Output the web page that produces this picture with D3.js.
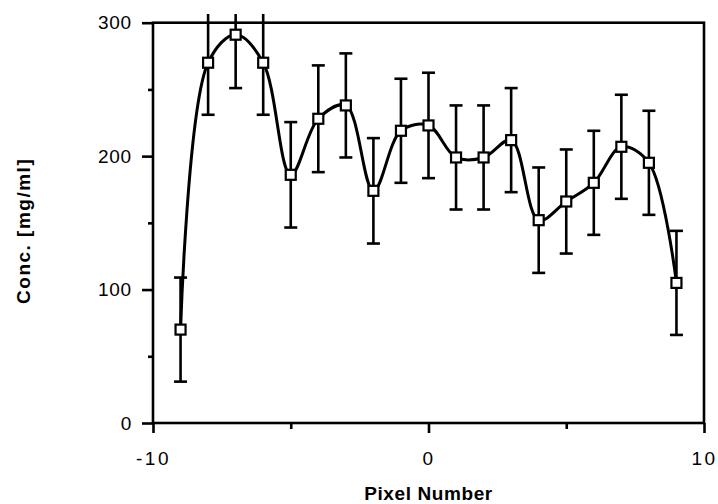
<!DOCTYPE html>
<html>
<head>
<meta charset="utf-8">
<script src="https://cdn.jsdelivr.net/npm/d3@7"></script>
<style>
  body { margin: 0; background: #fff; }
  svg { display: block; font-family: "Liberation Sans", Arial, Helvetica, sans-serif; }
</style>
</head>
<body>
<svg id="chart" width="718" height="504"></svg>
<script>
// pixel positions along the detector and measured concentration
var pixels = [-9, -8, -7, -6, -5, -4, -3, -2, -1, 0, 1, 2, 3, 4, 5, 6, 7, 8, 9];
var conc = [70, 270, 291, 270, 186, 228, 238, 174, 219, 223, 199, 199, 212, 152, 166, 180, 207, 195, 105];
var errs = [39, 39, 40, 39, 39.5, 40, 39, 39.5, 39, 39.5, 39, 39, 39, 39.5, 39, 39, 39, 39, 39];

var xMajorTicks = [-10, 0, 10];
var xMinorTicks = [-5, 5];
var yMajorTicks = [0, 100, 200, 300];
var yMinorTicks = [50, 150, 250];

var svg = d3.select('#chart');
var W = 718, H = 504;

var x = d3.scaleLinear().domain([-10, 10]).range([153, 704]);
var y = d3.scaleLinear().domain([0, 300]).range([423, 22.7]);

var points = pixels.map(function (p, i) {
    return {x: p, y: conc[i], e: errs[i]};
});

// clip region a bit taller than the frame (error bars poke above the top)
svg.append('clipPath').attr('id', 'clip')
  .append('rect')
    .attr('x', 0).attr('y', y(306.5))
    .attr('width', W).attr('height', H);

var lw = 2.6;
var fmt = function (d) { return String(d); }; // plain hyphen, like the original

// frame
svg.append('rect')
    .attr('x', x(-10)).attr('y', y(300))
    .attr('width', x(10) - x(-10)).attr('height', y(0) - y(300))
    .attr('fill', 'none').attr('stroke', '#000').attr('stroke-width', lw);

// y axis: long ticks + short minor ticks, outward
var gy = svg.append('g').attr('transform', 'translate(' + x(-10) + ',0)')
    .call(d3.axisLeft(y).tickValues(yMajorTicks).tickSize(11).tickPadding(10).tickFormat(fmt));
gy.select('.domain').remove();
gy.selectAll('.tick line').attr('stroke-width', lw);
gy.selectAll('.tick text').attr('font-size', 19).attr('fill', '#000')
    .attr('letter-spacing', 0.8);

var gy2 = svg.append('g').attr('transform', 'translate(' + x(-10) + ',0)')
    .call(d3.axisLeft(y).tickValues(yMinorTicks).tickSize(5).tickFormat(''));
gy2.select('.domain').remove();
gy2.selectAll('.tick line').attr('stroke-width', lw);

// x axis
var gx = svg.append('g').attr('transform', 'translate(0,' + y(0) + ')')
    .call(d3.axisBottom(x).tickValues(xMajorTicks).tickSize(10).tickPadding(19).tickFormat(fmt));
gx.select('.domain').remove();
gx.selectAll('.tick line').attr('stroke-width', lw);
gx.selectAll('.tick text').attr('font-size', 19).attr('fill', '#000')
    .attr('letter-spacing', 2.5);

var gx2 = svg.append('g').attr('transform', 'translate(0,' + y(0) + ')')
    .call(d3.axisBottom(x).tickValues(xMinorTicks).tickSize(6).tickFormat(''));
gx2.select('.domain').remove();
gx2.selectAll('.tick line').attr('stroke-width', lw);

// axis titles
svg.append('text')
    .attr('x', x(0)).attr('y', 500)
    .attr('text-anchor', 'middle')
    .attr('font-size', 19).attr('font-weight', 'bold')
    .attr('letter-spacing', 0.6)
    .text('Pixel Number');

svg.append('text')
    .attr('transform', 'translate(30,' + y(144) + ') rotate(-90)')
    .attr('text-anchor', 'middle')
    .attr('font-size', 19).attr('font-weight', 'bold')
    .attr('letter-spacing', 1.5)
    .text('Conc. [mg/ml]');

// error bars
var bars = svg.append('g').attr('clip-path', 'url(#clip)')
    .attr('stroke', '#000').attr('stroke-width', lw).attr('fill', 'none');
var capW = 6.5;
points.forEach(function (d) {
    bars.append('line')
        .attr('x1', x(d.x)).attr('x2', x(d.x))
        .attr('y1', y(d.y - d.e)).attr('y2', y(d.y + d.e));
    bars.append('line')
        .attr('x1', x(d.x) - capW).attr('x2', x(d.x) + capW)
        .attr('y1', y(d.y - d.e)).attr('y2', y(d.y - d.e));
    bars.append('line')
        .attr('x1', x(d.x) - capW).attr('x2', x(d.x) + capW)
        .attr('y1', y(d.y + d.e)).attr('y2', y(d.y + d.e));
});

// smooth curve through the points
var line = d3.line()
    .x(function (d) { return x(d.x); })
    .y(function (d) { return y(d.y); })
    .curve(d3.curveCatmullRom.alpha(0.5));

svg.append('path')
    .datum(points)
    .attr('d', line)
    .attr('fill', 'none')
    .attr('stroke', '#000')
    .attr('stroke-width', 3);

// open square markers
var s = 10;
svg.append('g').selectAll('rect.marker')
    .data(points)
  .join('rect')
    .attr('class', 'marker')
    .attr('x', function (d) { return x(d.x) - s / 2; })
    .attr('y', function (d) { return y(d.y) - s / 2; })
    .attr('width', s).attr('height', s)
    .attr('fill', '#fff')
    .attr('stroke', '#000')
    .attr('stroke-width', 2.2);
</script>
</body>
</html>
